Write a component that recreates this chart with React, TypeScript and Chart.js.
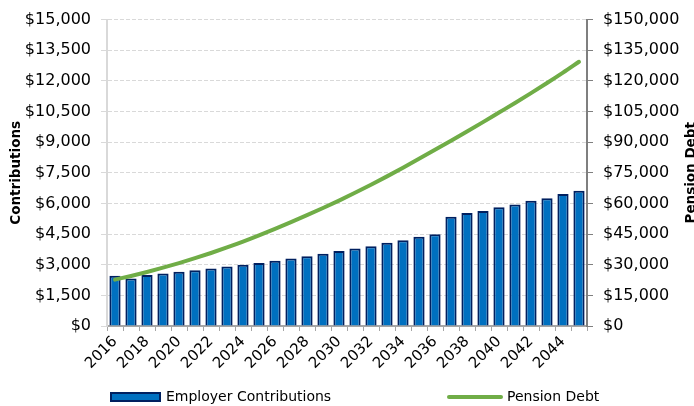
import React, { useEffect, useRef } from "react";
import { Chart, registerables } from "chart.js";

Chart.register(...registerables);

const years = [
  "2016", "2017", "2018", "2019", "2020", "2021", "2022", "2023", "2024", "2025",
  "2026", "2027", "2028", "2029", "2030", "2031", "2032", "2033", "2034", "2035",
  "2036", "2037", "2038", "2039", "2040", "2041", "2042", "2043", "2044", "2045",
];

const employerContributions = [
  2460, 2320, 2500, 2570, 2650, 2730, 2820, 2910, 3000, 3080,
  3200, 3310, 3420, 3540, 3670, 3790, 3910, 4070, 4200, 4370,
  4490, 5350, 5530, 5630, 5810, 5950, 6130, 6260, 6460, 6620,
];

const pensionDebt = [
  22700, 24500, 26450, 28550, 30800, 33200, 35750, 38450, 41300, 44350,
  47550, 50850, 54250, 57750, 61400, 65200, 69150, 73250, 77500, 81850,
  86250, 90700, 95200, 99800, 104500, 109200, 114000, 118950, 124050, 129350,
];

const leftAxis = { min: 0, max: 15000, step: 1500, title: "Contributions" };
const rightAxis = { min: 0, max: 150000, step: 15000, title: "Pension Debt" };
const seriesNames = ["Employer Contributions", "Pension Debt"];

const FONT = '"DejaVu Sans", sans-serif';
const money = (v: number) => "$" + Number(v).toLocaleString("en-US");

const extrasPlugin = {
  id: "extras",
  afterDraw(chart: any) {
    const ctx = chart.ctx as CanvasRenderingContext2D;
    const area = chart.chartArea;
    const ds = chart.data.datasets;
    const bar = ds.find((d: any) => d.type === "bar");
    const line = ds.find((d: any) => d.type === "line");
    ctx.save();
    // right axis title (reads bottom to top)
    ctx.font = `bold 13.5px ${FONT}`;
    ctx.fillStyle = "#000";
    ctx.textAlign = "center";
    ctx.textBaseline = "middle";
    ctx.translate(chart.width - 3, (area.top + area.bottom) / 2);
    ctx.rotate(-Math.PI / 2);
    ctx.fillText(rightAxis.title, 0, 0);
    ctx.restore();

    // legend
    ctx.save();
    ctx.font = `14px ${FONT}`;
    ctx.textBaseline = "middle";
    ctx.textAlign = "left";
    const cy = 397;
    let x = area.left + 3;
    ctx.fillStyle = bar.backgroundColor;
    ctx.fillRect(x, cy - 5, 51, 10);
    ctx.strokeStyle = bar.borderColor;
    ctx.lineWidth = 2;
    ctx.strokeRect(x + 1, cy - 4, 49, 8);
    ctx.fillStyle = "#000";
    ctx.fillText(bar.label, x + 56, cy);
    x = area.left + 341;
    ctx.strokeStyle = line.borderColor;
    ctx.lineWidth = 4;
    ctx.lineCap = "round";
    ctx.beginPath();
    ctx.moveTo(x + 1, cy);
    ctx.lineTo(x + 53, cy);
    ctx.stroke();
    ctx.fillText(line.label, x + 59, cy);
    ctx.restore();
  },
};

export default function App() {
  const ref = useRef<HTMLCanvasElement | null>(null);

  useEffect(() => {
    document.body.style.margin = "0";
    if (!ref.current) return;
    const chart = new Chart(ref.current, {
      type: "bar",
      data: {
        labels: years,
        datasets: [
          {
            type: "line",
            label: seriesNames[1],
            data: pensionDebt,
            yAxisID: "y1",
            borderColor: "#70AD47",
            backgroundColor: "#70AD47",
            borderWidth: 4,
            pointRadius: 0,
            pointHoverRadius: 0,
            cubicInterpolationMode: "monotone",
            borderCapStyle: "round",
            order: 0,
          } as any,
          {
            type: "bar",
            label: seriesNames[0],
            data: employerContributions,
            yAxisID: "y",
            backgroundColor: "#0070C0",
            borderColor: "#002060",
            borderWidth: 2,
            barPercentage: 0.7,
            categoryPercentage: 1.0,
            order: 1,
          } as any,
        ],
      },
      options: {
        responsive: false,
        animation: false,
        layout: { padding: { top: 19, bottom: 30, left: 0, right: 0 } },
        plugins: {
          legend: { display: false },
          tooltip: { enabled: false },
        },
        scales: {
          x: {
            afterFit: (s: any) => {
              s.height = 50;
            },
            grid: {
              drawOnChartArea: false,
              drawTicks: true,
              tickLength: 5,
              color: "#a6a6a6",
              offset: true,
            },
            border: { color: "#a6a6a6", width: 2 },
            ticks: {
              autoSkip: false,
              minRotation: 45,
              maxRotation: 45,
              color: "#000",
              font: { family: FONT, size: 15 },
              padding: 2,
              callback: (_v: any, i: number) => (i % 2 === 0 ? years[i] : ""),
            },
          },
          y: {
            position: "left",
            min: leftAxis.min,
            max: leftAxis.max,
            afterFit: (s: any) => {
              s.width = 107;
            },
            ticks: {
              stepSize: leftAxis.step,
              color: "#000",
              font: { family: FONT, size: 16 },
              padding: 10,
              callback: (v: any) => money(v),
            },
            grid: {
              color: "#d9d9d9",
              tickColor: "#d9d9d9",
              tickLength: 6,
              lineWidth: 1,
            },
            border: { color: "#d9d9d9", width: 2, dash: [4, 2] },
            title: {
              display: true,
              text: leftAxis.title,
              color: "#000",
              font: { family: FONT, size: 13.5, weight: "bold" },
              padding: { top: 8, bottom: 0 },
            },
          },
          y1: {
            position: "right",
            min: rightAxis.min,
            max: rightAxis.max,
            afterFit: (s: any) => {
              s.width = 107;
            },
            ticks: {
              stepSize: rightAxis.step,
              color: "#000",
              font: { family: FONT, size: 16 },
              padding: 10,
              callback: (v: any) => money(v),
            },
            grid: {
              drawOnChartArea: false,
              color: "#7f7f7f",
              tickLength: 6,
            },
            border: { color: "#7f7f7f", width: 2 },
          },
        },
      },
      plugins: [extrasPlugin],
    } as any);
    return () => chart.destroy();
  }, []);

  return (
    <div style={{ width: 694, height: 406 }}>
      <canvas ref={ref} width={694} height={406} style={{ display: "block" }} />
    </div>
  );
}
